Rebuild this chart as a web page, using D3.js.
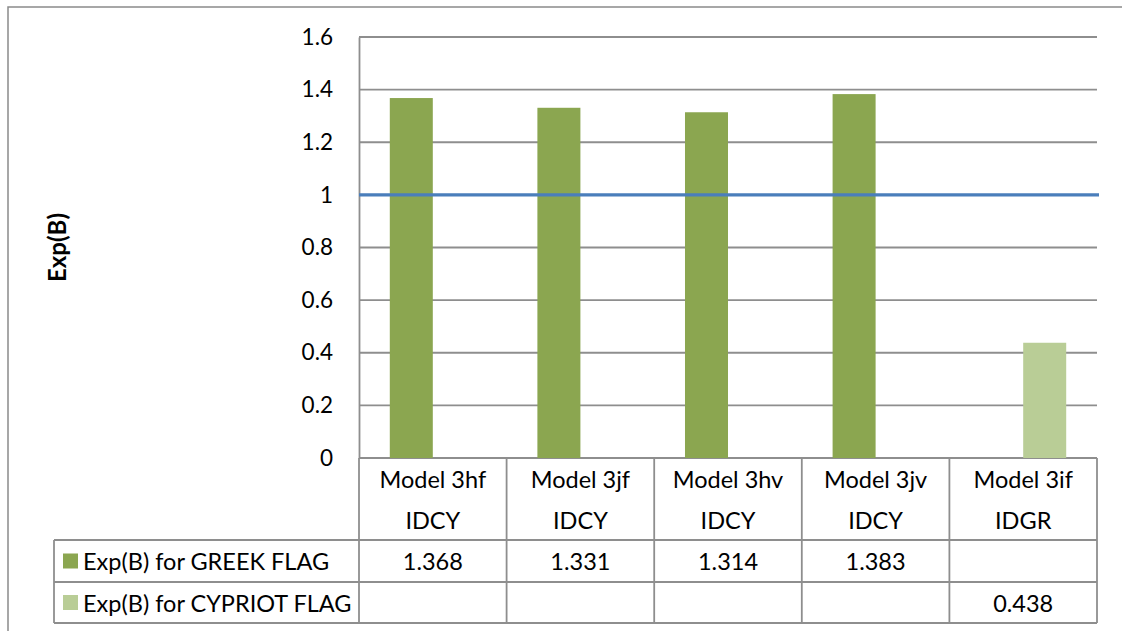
<!DOCTYPE html>
<html>
<head>
<meta charset="utf-8">
<script src="https://cdn.jsdelivr.net/npm/d3@7"></script>
<style>
  html, body { margin: 0; padding: 0; background: #fff; }
  svg { display: block; font-family: Lato, "Open Sans", sans-serif; }
</style>
</head>
<body>
<svg id="chart" width="1122" height="631"></svg>
<script>
// Categories (two-line labels in the data table)
const categories = ["Model 3hf IDCY", "Model 3jf IDCY", "Model 3hv IDCY", "Model 3jv IDCY", "Model 3if IDGR"];
const categoryLines = [["Model 3hf", "IDCY"], ["Model 3jf", "IDCY"], ["Model 3hv", "IDCY"], ["Model 3jv", "IDCY"], ["Model 3if", "IDGR"]];
// Series
const seriesNames = ["Exp(B) for GREEK FLAG", "Exp(B) for CYPRIOT FLAG"];
const greekValues = [1.368, 1.331, 1.314, 1.383, null];
const cypriotValues = [null, null, null, null, 0.438];
const seriesColors = ["#8ba650", "#b9cd96"];
// Axis
const yTicks = [0, 0.2, 0.4, 0.6, 0.8, 1, 1.2, 1.4, 1.6];
const yTickLabels = ["0", "0.2", "0.4", "0.6", "0.8", "1", "1.2", "1.4", "1.6"];
const referenceValue = 1;

const svg = d3.select("#chart");
const plot = { left: 359, right: 1097, top: 37, bottom: 458 };
const table = { left: 54, headerBottom: 540, row1Bottom: 582, row2Bottom: 623 };
const gridColor = "#8e8e8e";

// Outer chart border (runs off the right and bottom edges)
svg.append("rect")
  .attr("x", 8).attr("y", 7).attr("width", 1130).attr("height", 640)
  .attr("fill", "none").attr("stroke", "#8a8a8a").attr("stroke-width", 1.5);

const y = d3.scaleLinear().domain([0, 1.6]).range([plot.bottom, plot.top]);
const x0 = d3.scaleBand().domain(categories).range([plot.left, plot.right]).padding(0);
const x1 = d3.scaleBand().domain(seriesNames).range([0, x0.bandwidth()])
  .paddingInner(0).paddingOuter(0.716);

// Gridlines
svg.append("g").selectAll("line").data(yTicks).join("line")
  .attr("x1", plot.left).attr("x2", plot.right)
  .attr("y1", d => y(d)).attr("y2", d => y(d))
  .attr("stroke", gridColor).attr("stroke-width", 1.8);

// Y axis with labels
const yAxis = d3.axisLeft(y).tickValues(yTicks)
  .tickFormat((d, i) => yTickLabels[i]).tickSize(0).tickPadding(26);
const gy = svg.append("g").attr("transform", `translate(${plot.left},0)`).call(yAxis);
gy.select(".domain").attr("stroke", gridColor).attr("stroke-width", 1.8);
gy.selectAll("text").attr("font-size", 22.5).attr("fill", "#000")
  .attr("font-family", "Lato, sans-serif");

// Y axis title
svg.append("text")
  .attr("transform", `translate(66,${(plot.top + plot.bottom) / 2}) rotate(-90)`)
  .attr("text-anchor", "middle")
  .attr("font-size", 24).attr("font-weight", "bold").attr("fill", "#000")
  .text("Exp(B)");

// Bars
const seriesData = [greekValues, cypriotValues];
seriesData.forEach((vals, s) => {
  svg.append("g").selectAll("rect")
    .data(vals.map((v, i) => ({ v, c: categories[i] })).filter(d => d.v != null))
    .join("rect")
    .attr("x", d => x0(d.c) + x1(seriesNames[s]))
    .attr("width", x1.bandwidth())
    .attr("y", d => y(d.v))
    .attr("height", d => y(0) - y(d.v))
    .attr("fill", seriesColors[s]);
});

// Reference line at Exp(B) = 1
svg.append("line")
  .attr("x1", plot.left).attr("x2", plot.right + 2)
  .attr("y1", y(referenceValue)).attr("y2", y(referenceValue))
  .attr("stroke", "#4a7ebb").attr("stroke-width", 3.2);

// Data table
const tg = svg.append("g").attr("stroke", gridColor).attr("stroke-width", 1.8);
const colEdges = categories.map(c => x0(c)).concat([plot.right]);
colEdges.forEach(xv => {
  tg.append("line").attr("x1", xv).attr("x2", xv)
    .attr("y1", plot.bottom).attr("y2", table.row2Bottom);
});
tg.append("line").attr("x1", table.left).attr("x2", table.left)
  .attr("y1", table.headerBottom).attr("y2", table.row2Bottom);
[table.headerBottom, table.row1Bottom, table.row2Bottom].forEach(yv => {
  tg.append("line").attr("x1", table.left).attr("x2", plot.right)
    .attr("y1", yv).attr("y2", yv);
});

const cellFont = 23.5;
// header labels
categories.forEach((c, i) => {
  const cx = x0(c) + x0.bandwidth() / 2;
  categoryLines[i].forEach((line, j) => {
    svg.append("text")
      .attr("x", cx).attr("y", j === 0 ? 479 : 520)
      .attr("text-anchor", "middle").attr("dominant-baseline", "central")
      .attr("font-size", cellFont).attr("fill", "#000")
      .text(line);
  });
});

// value rows with legend keys
const rowCenters = [(table.headerBottom + table.row1Bottom) / 2, (table.row1Bottom + table.row2Bottom) / 2];
seriesData.forEach((vals, s) => {
  const cy = rowCenters[s];
  svg.append("rect")
    .attr("x", 63).attr("y", cy - 7.5).attr("width", 15).attr("height", 15)
    .attr("fill", seriesColors[s]);
  svg.append("text")
    .attr("x", 83).attr("y", cy)
    .attr("dominant-baseline", "central")
    .attr("font-size", cellFont).attr("fill", "#000")
    .text(seriesNames[s]);
  vals.forEach((v, i) => {
    if (v == null) return;
    svg.append("text")
      .attr("x", x0(categories[i]) + x0.bandwidth() / 2).attr("y", cy)
      .attr("text-anchor", "middle").attr("dominant-baseline", "central")
      .attr("font-size", cellFont).attr("fill", "#000")
      .text(d3.format(".3f")(v));
  });
});
</script>
</body>
</html>
